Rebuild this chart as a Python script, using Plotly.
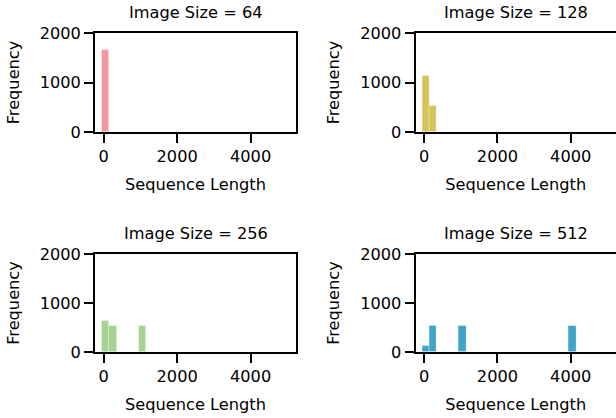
import plotly.graph_objects as go

# Data (histogram bins of width ~200)
titles = ["Image Size = 64", "Image Size = 128", "Image Size = 256", "Image Size = 512"]
bins_64 = [50]
counts_64 = [1650]
bins_128 = [50, 250]
counts_128 = [1140, 530]
bins_256 = [50, 250, 1050]
counts_256 = [630, 530, 530]
bins_512 = [50, 250, 1050, 4050]
counts_512 = [125, 530, 530, 530]
bin_width = 200
colors = ["#f4979a", "#d4c45a", "#a5d391", "#40a6c6"]
x_ticks = [0, 2000, 4000]
y_ticks = [0, 1000, 2000]

series = [(bins_64, counts_64), (bins_128, counts_128), (bins_256, counts_256), (bins_512, counts_512)]

W, H = 616, 418
# axes boxes in pixels: (left, right, top, bottom)
boxes = [(95, 296, 33, 132), (415.5, 616.5, 33, 132), (95, 296, 254, 352), (415.5, 616.5, 254, 352)]

FONT = "DejaVu Sans"
FS = 16.2

fig = go.Figure()
layout = dict(
    width=W, height=H,
    margin=dict(l=0, r=0, t=0, b=0, autoexpand=False),
    paper_bgcolor="white", plot_bgcolor="white",
    showlegend=False,
    font=dict(family=FONT, size=FS, color="black"),
    bargap=0,
)
annotations = []
for i, ((xs, ys), box) in enumerate(zip(series, boxes)):
    n = "" if i == 0 else str(i + 1)
    l, r, t, b = box
    xd = [l / W, min(r / W, 1.0)]
    yd = [1 - b / H, 1 - t / H]
    fig.add_trace(go.Bar(
        x=xs, y=ys, width=[bin_width] * len(xs),
        marker=dict(color=colors[i], line=dict(color="rgba(255,255,255,0.35)", width=0.8)),
        xaxis="x" + n, yaxis="y" + n, hoverinfo="x+y",
    ))
    right_col = (i % 2 == 1)
    layout["xaxis" + n] = dict(
        domain=xd, anchor="y" + n, range=[-236, 5236], automargin=False,
        tickmode="array", tickvals=x_ticks, ticks="outside", ticklen=9, tickwidth=1.8,
        tickcolor="black", showline=True, linecolor="black", linewidth=1.8, mirror=True,
        showgrid=False, zeroline=False,
        title=dict(text="Sequence Length", font=dict(size=FS), standoff=13),
        tickfont=dict(size=FS),
    )
    layout["yaxis" + n] = dict(
        domain=yd, anchor="x" + n, range=[0, 2000], automargin=False,
        tickmode="array", tickvals=y_ticks, ticks="outside", ticklen=9, tickwidth=1.8,
        tickcolor="black", showline=True, linecolor="black", linewidth=1.8,
        mirror=(not right_col),
        showgrid=False, zeroline=False,
        title=dict(text="Frequency", font=dict(size=FS), standoff=16),
        tickfont=dict(size=FS),
    )
    annotations.append(dict(
        text=titles[i], xref="paper", yref="paper",
        x=((l + r) / 2) / W, y=1 - (t - 9) / H, xanchor="center", yanchor="bottom",
        showarrow=False, font=dict(size=FS),
    ))

layout["annotations"] = annotations
fig.update_layout(**layout)
fig.write_html("out.html", config={"displayModeBar": False},
               post_script="document.body.style.margin='0';document.body.style.overflow='hidden';")
